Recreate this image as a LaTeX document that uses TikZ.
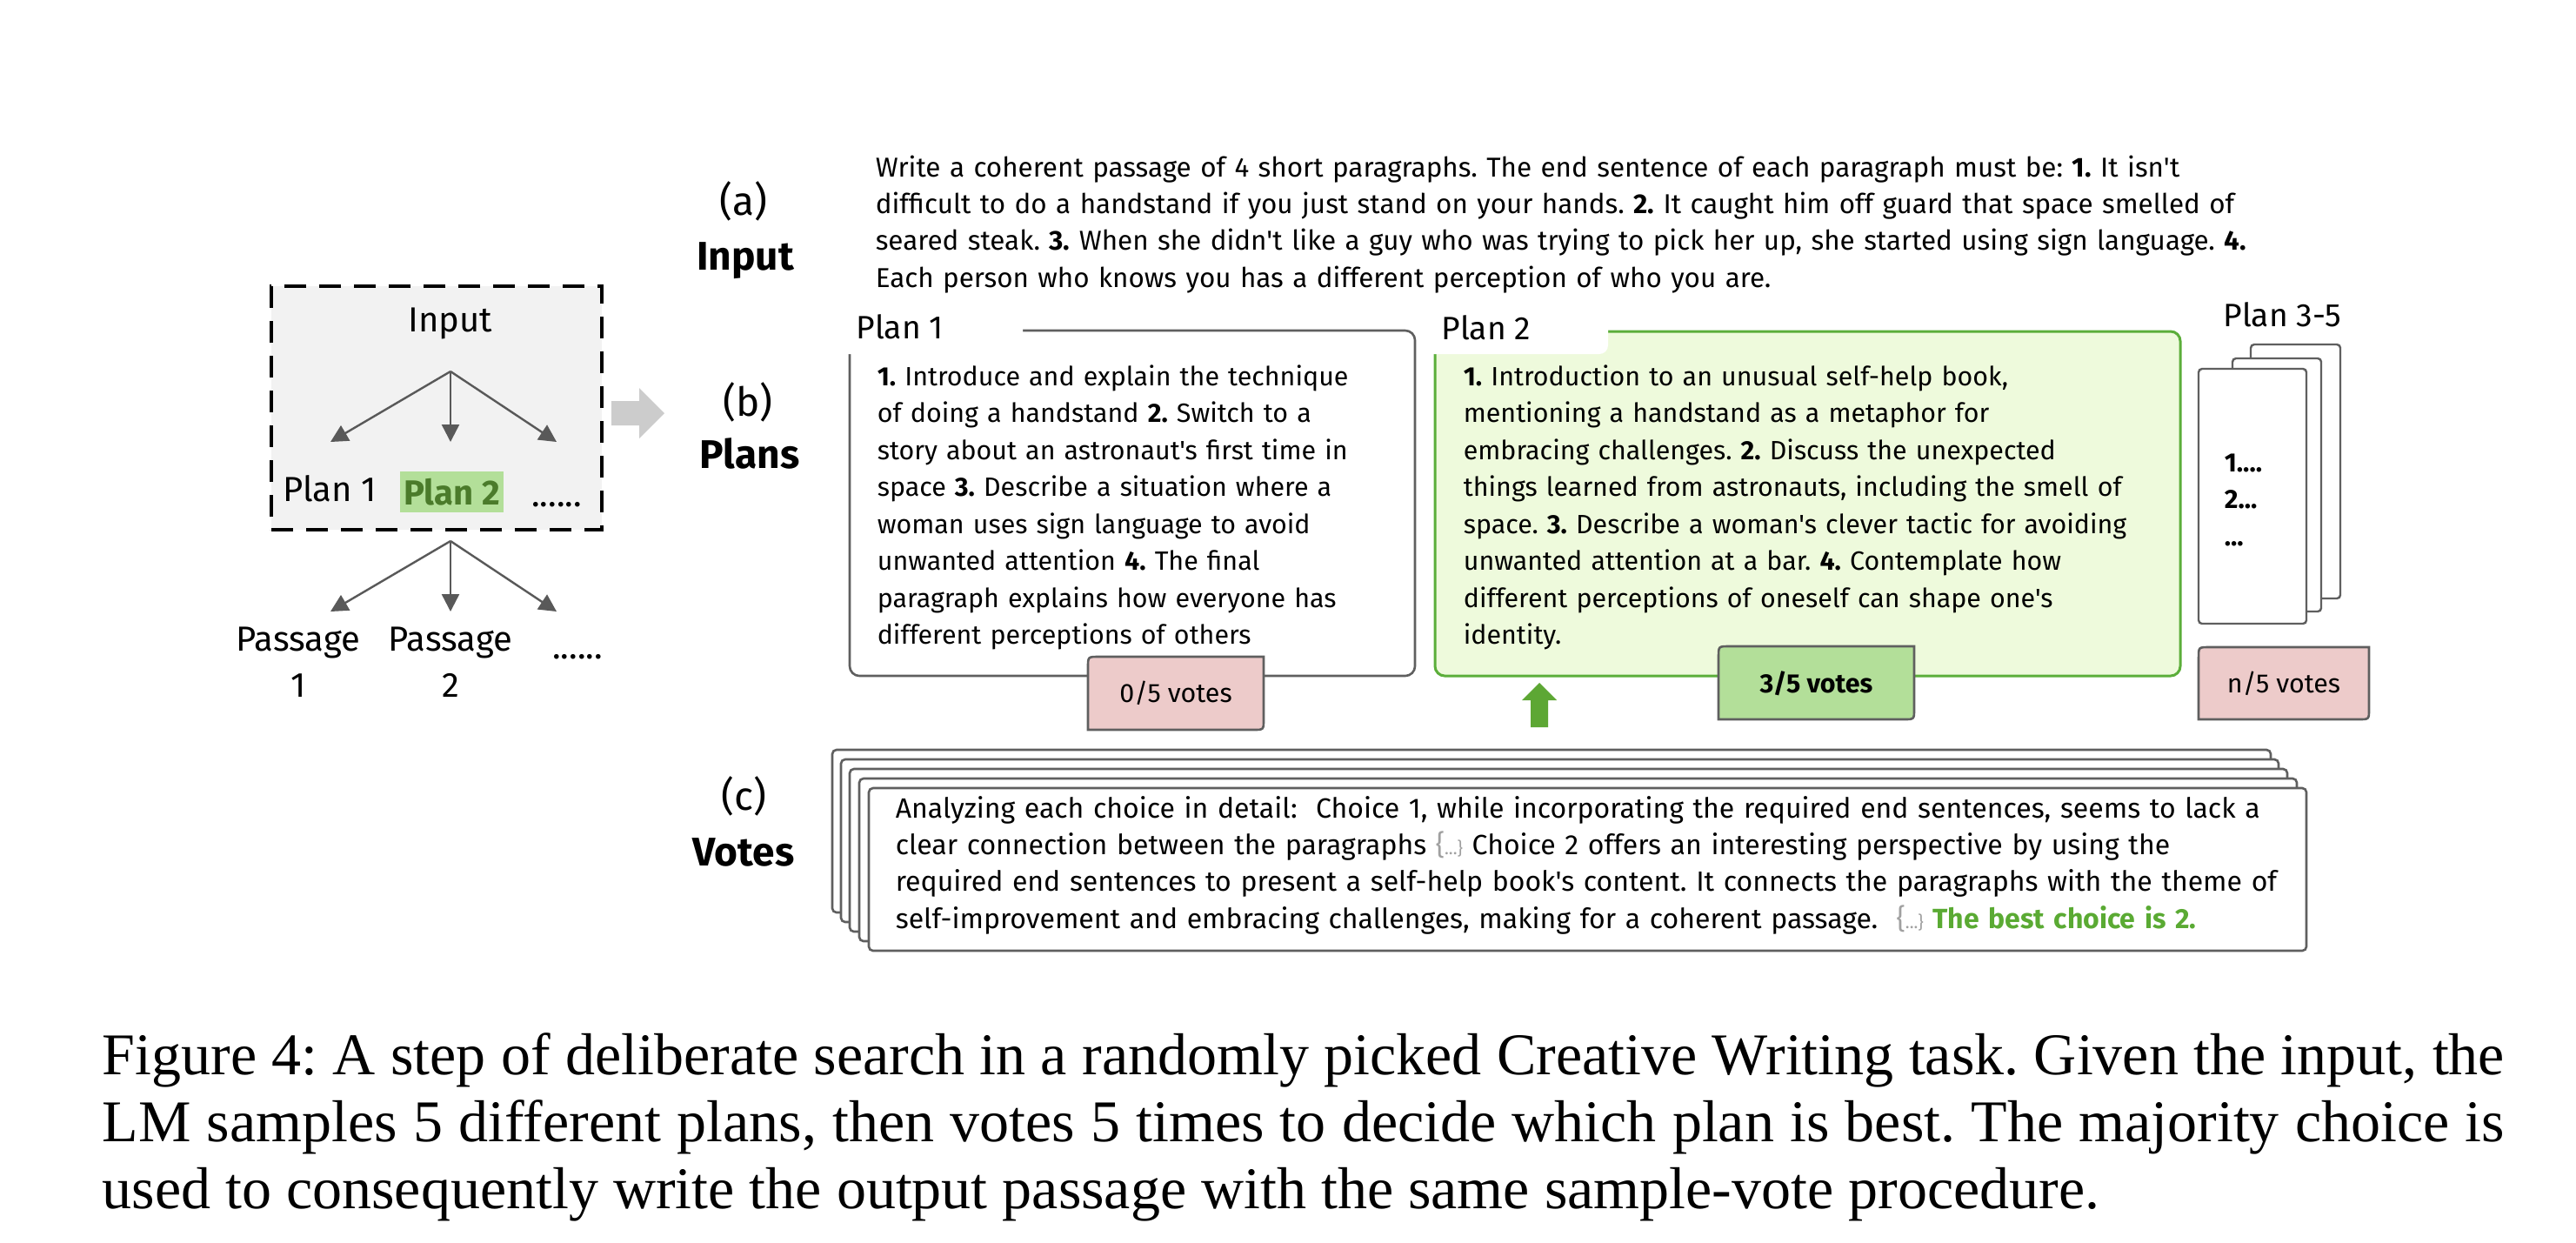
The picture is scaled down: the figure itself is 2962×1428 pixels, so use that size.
\documentclass[tikz,border=0pt]{standalone}
\usepackage{fontspec}
\setmainfont{Liberation Serif}
\newfontfamily\uifont{Fira Sans}
\usetikzlibrary{arrows.meta}
\definecolor{boxgray}{HTML}{5F5F5F}
\definecolor{arrowgray}{HTML}{595959}
\definecolor{dashfill}{HTML}{F2F2F2}
\definecolor{hlgreen}{HTML}{B3DF99}
\definecolor{hltext}{HTML}{4B7B2B}
\definecolor{planfill}{HTML}{EEFADC}
\definecolor{planborder}{HTML}{5BAE3A}
\definecolor{votepink}{HTML}{EDCBCA}
\definecolor{arrowgreen}{HTML}{5DA734}
\definecolor{bestgreen}{HTML}{5AAA33}
\definecolor{bigarrow}{HTML}{CCCCCC}
\definecolor{bracegray}{HTML}{A0A0A0}
\newcommand{\elided}{{\color{bracegray}\{\fontsize{5}{5}\selectfont...\}}}
\tikzset{
  body/.style={font=\uifont\fontsize{7.6}{10.625}\selectfont\frenchspacing, inner sep=0pt, anchor=base west, align=left, text width=#1},
  body/.default=260pt,
  inputbody/.style={body=440pt, font=\uifont\fontsize{7.85}{10.6}\selectfont\frenchspacing},
  votebody/.style={body=440pt, font=\uifont\fontsize{8.0}{10.6}\selectfont\frenchspacing},
  smalllabel/.style={font=\uifont\fontsize{9.3}{11}\selectfont, inner sep=0pt, anchor=base west},
  leftlabel/.style={font=\uifont\fontsize{10}{13}\selectfont, inner sep=0pt},
  seclabel/.style={font=\uifont\fontsize{11.5}{14}\selectfont, inner sep=0pt, anchor=base},
  conn/.style={draw=arrowgray, line width=0.6pt, -{Triangle[length=5pt,width=5pt]}},
  plansheet/.style={draw=boxgray, line width=0.6pt, fill=white, rounded corners=1pt},
  votesheet/.style={draw=boxgray, line width=0.65pt, fill=white, rounded corners=1.2pt},
  votebox/.style={draw=boxgray, line width=0.65pt},
  votetext/.style={font=\uifont\fontsize{7.6}{9}\selectfont, inner sep=0pt},
}
\begin{document}
\begin{tikzpicture}[x=0.25pt,y=-0.25pt]
\fill[white] (0,0) rectangle (2962,1428);
\useasboundingbox (0,0) rectangle (2962,1428);

% ---------------- left overview diagram ----------------
\node[draw=black, fill=dashfill, line width=1.1pt, dash pattern=on 6.2pt off 3.8pt,
      minimum width=95pt, minimum height=70pt, inner sep=0pt] (dbox) at (502,469) {};
\node[leftlabel] (lin) at (518,372) {Input};
\coordinate (s1) at (518,427);
\coordinate (e1) at (380,508);
\coordinate (e2) at (518,508);
\coordinate (e3) at (640,508);
\draw[conn] (s1) -- (e1);
\draw[conn] (s1) -- (e2);
\draw[conn] (s1) -- (e3);
\node[leftlabel, anchor=base] (lp1) at (379,576) {Plan 1};
\node[leftlabel, fill=hlgreen, text=hltext, minimum width=29.75pt, minimum height=11.75pt,
      font=\uifont\bfseries\fontsize{10}{13}\selectfont] (lp2) at (519.5,565.5) {Plan 2};
\node[leftlabel, anchor=base] (ldots) at (640,582) {......};
\coordinate (s2) at (518,622);
\coordinate (f1) at (380,703);
\coordinate (f2) at (518,703);
\coordinate (f3) at (640,703);
\draw[conn] (s2) -- (f1);
\draw[conn] (s2) -- (f2);
\draw[conn] (s2) -- (f3);
\node[leftlabel, anchor=base, text width=40pt, align=center] (pa1) at (343,748) {Passage\\[0.4pt]1};
\node[leftlabel, anchor=base, text width=40pt, align=center] (pa2) at (518,748) {Passage\\[0.4pt]2};
\node[leftlabel, anchor=base] (pdots) at (664,757) {......};

% big gray arrow
\fill[bigarrow] (703,461) -- (735,461) -- (735,446) -- (764,475) -- (735,504) -- (735,489) -- (703,489) -- cycle;

% ---------------- section labels ----------------
\node[seclabel] (la) at (855,247) {(a)};
\node[seclabel, font=\uifont\bfseries\fontsize{11.5}{14}\selectfont] (lainput) at (857,310) {Input};
\node[seclabel] (lb) at (860,478) {(b)};
\node[seclabel, font=\uifont\bfseries\fontsize{11.5}{14}\selectfont] (lbplans) at (862,538) {Plans};
\node[seclabel] (lc) at (855,931) {(c)};
\node[seclabel, font=\uifont\bfseries\fontsize{11.5}{14}\selectfont] (lcvotes) at (855,995) {Votes};

% ---------------- input text ----------------
\node[inputbody] (intext) at (1006,203) {Write a coherent passage of 4 short paragraphs. The end sentence of each paragraph must be: \textbf{1.} It isn't\\
difficult to do a handstand if you just stand on your hands. \textbf{2.} It caught him off guard that space smelled of\\
seared steak. \textbf{3.} When she didn't like a guy who was trying to pick her up, she started using sign language. \textbf{4.}\\
Each person who knows you has a different perception of who you are.};

% ---------------- plan 1 ----------------
\node[draw=boxgray, line width=0.65pt, fill=white, rounded corners=2.8pt,
      minimum width=162.5pt, minimum height=99.25pt, inner sep=0pt] (plan1) at (1302,578.5) {};
\fill[white, rounded corners=2.5pt] (962,350) rectangle (1176,407);
\node[smalllabel] (plan1lbl) at (984,389) {Plan 1};
\node[body] (plan1text) at (1008,443) {\textbf{1.} Introduce and explain the technique\\
of doing a handstand \textbf{2.} Switch to a\\
story about an astronaut's first time in\\
space \textbf{3.} Describe a situation where a\\
woman uses sign language to avoid\\
unwanted attention \textbf{4.} The final\\
paragraph explains how everyone has\\
different perceptions of others};

% ---------------- plan 2 ----------------
\node[draw=planborder, line width=0.75pt, fill=planfill, rounded corners=2.8pt,
      minimum width=214.25pt, minimum height=99pt, inner sep=0pt] (plan2) at (2078.5,579) {};
\fill[white, rounded corners=2.5pt] (1635,350) rectangle (1849,407);
\node[smalllabel] (plan2lbl) at (1657,390) {Plan 2};
\node[body] (plan2text) at (1682,443) {\textbf{1.} Introduction to an unusual self-help book,\\
mentioning a handstand as a metaphor for\\
embracing challenges. \textbf{2.} Discuss the unexpected\\
things learned from astronauts, including the smell of\\
space. \textbf{3.} Describe a woman's clever tactic for avoiding\\
unwanted attention at a bar. \textbf{4.} Contemplate how\\
different perceptions of oneself can shape one's\\
identity.};

% ---------------- plans 3-5 ----------------
\node[smalllabel] (plan35lbl) at (2556,375) {Plan 3-5};
\draw[plansheet] (2588,396) rectangle (2691,688);
\draw[plansheet] (2567,412) rectangle (2669,703);
\draw[plansheet] (2528,424) rectangle (2652,717);
\node[body, font=\uifont\bfseries\fontsize{7.6}{10.625}\selectfont] (plan35text) at (2557,542) {1....\\2...\\...};

% ---------------- vote boxes ----------------
\filldraw[votebox, fill=votepink] (1251,839) -- (1251,767) .. controls (1251,755) .. (1263,755) -- (1453,755) -- (1453,827) .. controls (1453,839) .. (1441,839) -- cycle;
\node[votetext] (v1) at (1352,797) {0/5 votes};
\filldraw[votebox, fill=hlgreen] (1976,827) -- (1976,755) .. controls (1976,743) .. (1988,743) -- (2201,743) -- (2201,815) .. controls (2201,827) .. (2189,827) -- cycle;
\node[votetext, font=\uifont\bfseries\fontsize{7.6}{9}\selectfont] (v2) at (2088.5,786) {3/5 votes};
\filldraw[votebox, fill=votepink] (2528,827) -- (2528,756) .. controls (2528,744) .. (2540,744) -- (2724,744) -- (2724,815) .. controls (2724,827) .. (2712,827) -- cycle;
\node[votetext] (v3) at (2626,786) {n/5 votes};

% green arrow
\fill[arrowgreen] (1760,836) -- (1760,805) -- (1750,805) -- (1770,785) -- (1790,805) -- (1780,805) -- (1780,836) -- cycle;

% ---------------- votes stack ----------------
\draw[votesheet] (957,862) rectangle (2611,1049);
\draw[votesheet] (967,873) rectangle (2620,1060);
\draw[votesheet] (977,884) rectangle (2630,1071);
\draw[votesheet] (988,895) rectangle (2641,1082);
\draw[votesheet] (999,906) rectangle (2652,1093);
\node[votebody] (votestext) at (1029,940) {Analyzing each choice in detail:~ Choice 1, while incorporating the required end sentences, seems to lack a\\
clear connection between the paragraphs \elided{} Choice 2 offers an interesting perspective by using the\\
required end sentences to present a self-help book's content. It connects the paragraphs with the theme of\\
self-improvement and embracing challenges, making for a coherent passage.~ \elided{} {\bfseries\color{bestgreen}The best choice is 2.}};

% ---------------- caption ----------------
\node[font=\fontsize{17}{19.25}\selectfont\frenchspacing, anchor=base west, inner sep=0pt, text width=690.5pt, align=justify] (caption) at (117,1235)
{\hyphenpenalty=10000 Figure 4: A step of deliberate search in a randomly picked Creative Writing task. Given the input, the\linebreak
LM samples 5 different plans, then votes 5 times to decide which plan is best. The majority choice is\linebreak
used to consequently write the output passage with the same sample-vote procedure.};
\end{tikzpicture}
\end{document}
